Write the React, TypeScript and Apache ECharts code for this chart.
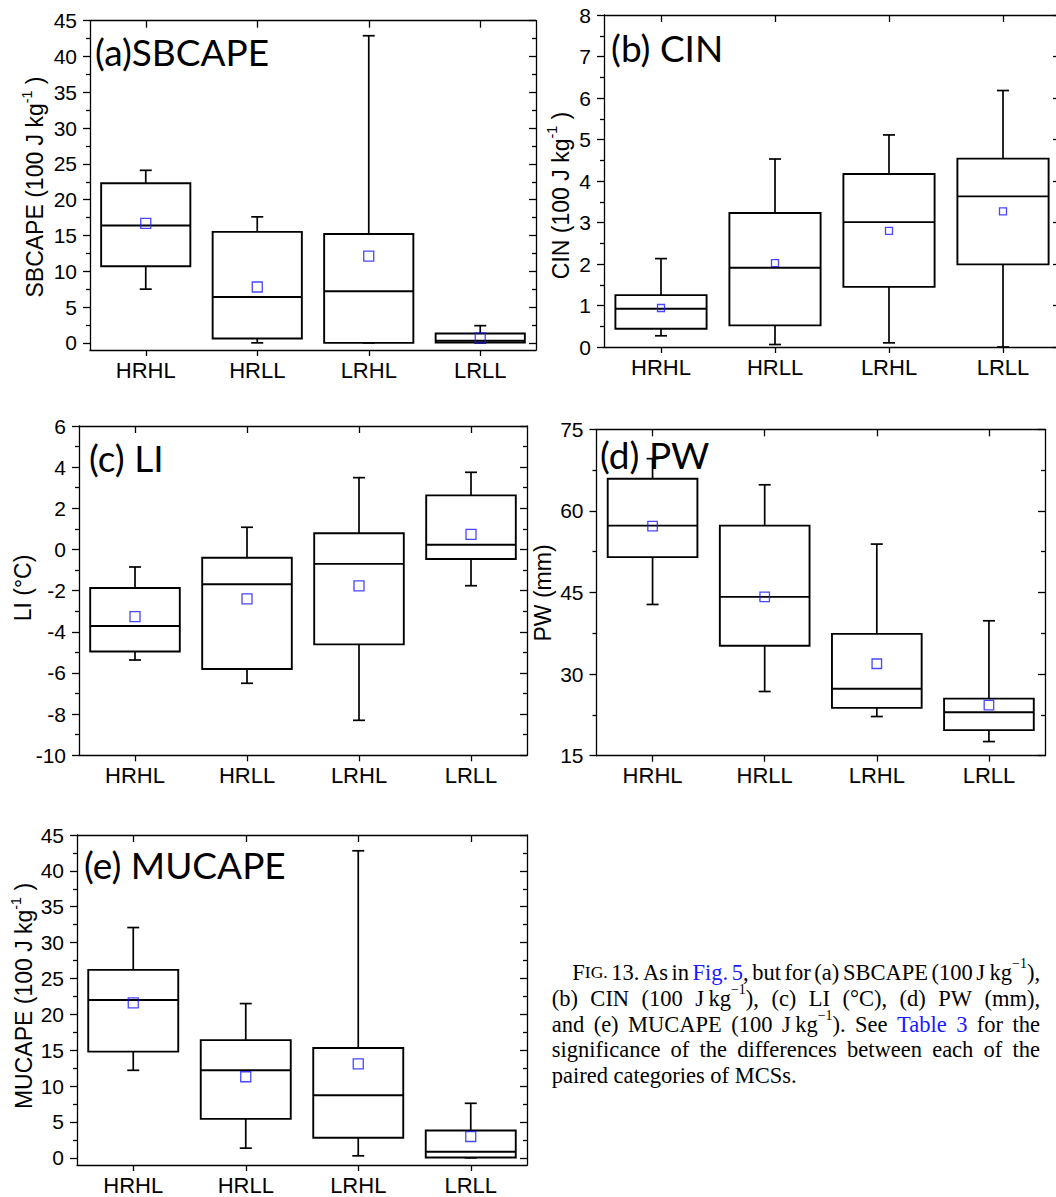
import React, { useEffect, useRef } from "react";
import * as echarts from "echarts";

// ---------------- DATA ----------------
const categories = ["HRHL", "HRLL", "LRHL", "LRLL"];

// each row: [lower whisker, Q1, median, Q3, upper whisker]
const sbcapeBox = [
  [7.5, 10.7, 16.4, 22.3, 24.1],
  [0, 0.6, 6.4, 15.5, 17.6],
  [0, 0, 7.2, 15.2, 42.9],
  [0, 0.05, 0.3, 1.3, 2.4],
];
const sbcapeMean = [16.7, 7.8, 12.1, 0.7];

const cinBox = [
  [0.27, 0.44, 0.92, 1.25, 2.13],
  [0.06, 0.52, 1.91, 3.23, 4.53],
  [0.1, 1.45, 3.01, 4.17, 5.11],
  [0, 1.99, 3.63, 4.54, 6.18],
];
const cinMean = [0.94, 2.02, 2.8, 3.27];

const liBox = [
  [-5.37, -4.96, -3.72, -1.87, -0.85],
  [-6.5, -5.81, -1.69, -0.4, 1.08],
  [-8.3, -4.61, -0.7, 0.79, 3.49],
  [-1.76, -0.46, 0.23, 2.63, 3.75],
];
const liMean = [-3.26, -2.4, -1.77, 0.73];

const pwBox = [
  [42.8, 51.5, 57.3, 65.9, 69.6],
  [26.8, 35.2, 44.2, 57.3, 64.8],
  [22.2, 23.8, 27.3, 37.4, 53.9],
  [17.6, 19.7, 23.0, 25.5, 39.8],
];
const pwMean = [57.2, 44.2, 31.9, 24.3];

const mucapeBox = [
  [12.2, 14.8, 22.0, 26.2, 32.1],
  [1.35, 5.43, 12.2, 16.4, 21.5],
  [0.28, 2.79, 8.73, 15.3, 42.8],
  [0, 0.05, 0.84, 3.8, 7.6],
];
const mucapeMean = [21.6, 11.3, 13.1, 2.97];

// axis ranges and tick values
const capeRange = [-1, 45];
const capeTicks = [0, 5, 10, 15, 20, 25, 30, 35, 40, 45];
const capeMinor = [2.5, 7.5, 12.5, 17.5, 22.5, 27.5, 32.5, 37.5, 42.5];
const cinRange = [0, 8];
const cinTicks = [0, 1, 2, 3, 4, 5, 6, 7, 8];
const cinMinor = [0.5, 1.5, 2.5, 3.5, 4.5, 5.5, 6.5, 7.5];
const liRange = [-10, 6];
const liTicks = [-10, -8, -6, -4, -2, 0, 2, 4, 6];
const liMinor = [-9, -7, -5, -3, -1, 1, 3, 5];
const pwRange = [15, 75];
const pwTicks = [15, 30, 45, 60, 75];
const pwMinor = [22.5, 37.5, 52.5, 67.5];

// texts (^..^ superscript, [..] link colour, ~..~ small caps)
const titles = ["(a)SBCAPE", "(b) CIN", "(c) LI", "(d) PW", "(e) MUCAPE"];
const axisNames = [
  "SBCAPE (100 J kg^-1^ )",
  "CIN (100 J kg^-1^ )",
  "LI (°C)",
  "PW (mm)",
  "MUCAPE (100 J kg^-1^ )",
];
const captionLines = [
  "F~IG.~ 13. As in [Fig.] [5], but for (a) SBCAPE (100 J\u2009kg^−1^),",
  "(b) CIN (100 J\u2009kg^−1^), (c) LI (°C), (d) PW (mm),",
  "and (e) MUCAPE (100 J\u2009kg^−1^). See [Table] [3] for the",
  "significance of the differences between each of the",
  "paired categories of MCSs.",
];

// ---------------- LAYOUT ----------------
const layouts = [
  { left: 90, top: 20.7, width: 446, height: 329.3, ms: 10, tx: 95, ty: 51, nx: 35.3, ny: 187 },
  { left: 604, top: 15, width: 456, height: 332, ms: 7, tx: 611, ty: 47.5, nx: 560.7, ny: 195.5 },
  { left: 79, top: 426, width: 448, height: 329.3, ms: 10, tx: 89, ty: 457, nx: 23.4, ny: 588 },
  { left: 596.5, top: 429.3, width: 448.5, height: 326.4, ms: 9.5, tx: 600, ty: 454.5, nx: 542.6, ny: 593 },
  { left: 77, top: 835, width: 450, height: 330, ms: 10, tx: 84, ty: 864, nx: 24.2, ny: 996 },
];

const BLUE = "#1a1aff";
const SANS = "Liberation Sans";
const SERIF = "Liberation Serif";
const TITLE_FONT = "Lato";
const NAME_FS = 23;

type Seg = { t: string; kind: "n" | "sup" | "sc" | "blue" };
function parseSegs(s: string): Seg[] {
  const out: Seg[] = [];
  const re = /\[([^\]]*)\]|\^([^^]*)\^|~([^~]*)~|([^\[\^~]+)/g;
  let m: RegExpExecArray | null;
  while ((m = re.exec(s))) {
    if (m[1] !== undefined) out.push({ t: m[1], kind: "blue" });
    else if (m[2] !== undefined) out.push({ t: m[2], kind: "sup" });
    else if (m[3] !== undefined) out.push({ t: m[3], kind: "sc" });
    else out.push({ t: m[4], kind: "n" });
  }
  return out;
}

function buildOption() {
  const ctx = document.createElement("canvas").getContext("2d")!;
  const measure = (t: string, fs: number, fam: string) => {
    ctx.font = `${fs}px "${fam}"`;
    return ctx.measureText(t).width;
  };
  const segSize = (k: string, fs: number) => (k === "sup" ? fs * 0.62 : k === "sc" ? fs * 0.78 : fs);
  const runWidth = (segs: Seg[], fs: number, fam: string) =>
    segs.reduce((w, s) => w + measure(s.t, segSize(s.kind, fs), fam), 0);
  const runElems = (segs: Seg[], fs: number, fam: string, x0: number, y: number) => {
    let x = x0;
    const els: any[] = [];
    for (const s of segs) {
      const f = segSize(s.kind, fs);
      const dy = s.kind === "sup" ? -fs * 0.36 : 0;
      els.push({
        type: "text",
        x,
        y: y + dy,
        silent: true,
        style: {
          text: s.t,
          fontSize: f,
          fontFamily: fam,
          fill: s.kind === "blue" ? BLUE : "#000",
          align: "left",
          verticalAlign: "middle",
          textAlign: "left",
          textVerticalAlign: "middle",
        },
      });
      x += measure(s.t, f, fam);
    }
    return els;
  };

  const panels = [
    { box: sbcapeBox, mean: sbcapeMean, range: capeRange, major: capeTicks, minor: capeMinor },
    { box: cinBox, mean: cinMean, range: cinRange, major: cinTicks, minor: cinMinor },
    { box: liBox, mean: liMean, range: liRange, major: liTicks, minor: liMinor },
    { box: pwBox, mean: pwMean, range: pwRange, major: pwTicks, minor: pwMinor },
    { box: mucapeBox, mean: mucapeMean, range: capeRange, major: capeTicks, minor: capeMinor },
  ];

  const black = { color: "#000", width: 1.3 };
  const grid: any[] = [];
  const xAxis: any[] = [];
  const yAxis: any[] = [];
  const series: any[] = [];
  const graphic: any[] = [];

  panels.forEach((p, i) => {
    const L = layouts[i];
    grid.push({ left: L.left, top: L.top, width: L.width, height: L.height, containLabel: false, outerBoundsMode: "none" });
    xAxis.push({
      gridIndex: i, type: "category", data: categories, position: "bottom", boundaryGap: true,
      axisLine: { show: true, onZero: false, lineStyle: black },
      axisTick: { show: true, alignWithLabel: true, inside: false, length: 6, lineStyle: black },
      axisLabel: { show: true, color: "#000", fontSize: 22, fontFamily: SANS, margin: 9 },
      splitLine: { show: false },
    });
    xAxis.push({
      gridIndex: i, type: "category", data: categories, position: "top", boundaryGap: true,
      axisLine: { show: true, onZero: false, lineStyle: black },
      axisTick: { show: true, alignWithLabel: true, inside: true, length: 7, lineStyle: black },
      axisLabel: { show: false },
      splitLine: { show: false },
    });
    const base = { gridIndex: i, type: "value", min: p.range[0], max: p.range[1], splitLine: { show: false } };
    yAxis.push({
      ...base, position: "left",
      axisLine: { show: true, onZero: false, lineStyle: black },
      axisTick: { show: true, inside: false, length: 7, lineStyle: black, customValues: p.major },
      axisLabel: { show: true, customValues: p.major, color: "#000", fontSize: 21, fontFamily: SANS, margin: 13 },
    });
    yAxis.push({
      ...base, position: "left",
      axisLine: { show: false, onZero: false },
      axisTick: { show: true, inside: false, length: 4, lineStyle: black, customValues: p.minor },
      axisLabel: { show: false },
    });
    yAxis.push({
      ...base, position: "right",
      axisLine: { show: true, onZero: false, lineStyle: black },
      axisTick: { show: true, inside: true, length: 7, lineStyle: black, customValues: p.major },
      axisLabel: { show: false },
    });
    yAxis.push({
      ...base, position: "right",
      axisLine: { show: false, onZero: false },
      axisTick: { show: true, inside: true, length: 4, lineStyle: black, customValues: p.minor },
      axisLabel: { show: false },
    });

    series.push({
      type: "custom",
      xAxisIndex: 2 * i,
      yAxisIndex: 4 * i,
      encode: { x: 0, y: [1, 2, 3, 4, 5] },
      data: p.box.map((b, j) => [j, ...b]),
      renderItem: (_params: any, api: any) => {
        const x = api.value(0);
        const y = (k: number) => api.coord([x, api.value(k)])[1];
        const cx = api.coord([x, api.value(1)])[0];
        const yLow = y(1), yQ1 = y(2), yMed = y(3), yQ3 = y(4), yHigh = y(5);
        const bw = api.size([1, 0])[0] * 0.8;
        const cap = 12;
        const wStyle = { stroke: "#000", lineWidth: 1.7, fill: "none" };
        const bStyle = { stroke: "#000", lineWidth: 1.9, fill: "none" };
        return {
          type: "group",
          children: [
            { type: "line", shape: { x1: cx, y1: yQ3, x2: cx, y2: yHigh }, style: wStyle },
            { type: "line", shape: { x1: cx - cap / 2, y1: yHigh, x2: cx + cap / 2, y2: yHigh }, style: wStyle },
            { type: "line", shape: { x1: cx, y1: yQ1, x2: cx, y2: yLow }, style: wStyle },
            { type: "line", shape: { x1: cx - cap / 2, y1: yLow, x2: cx + cap / 2, y2: yLow }, style: wStyle },
            { type: "rect", shape: { x: cx - bw / 2, y: yQ3, width: bw, height: yQ1 - yQ3 }, style: bStyle },
            { type: "line", shape: { x1: cx - bw / 2, y1: yMed, x2: cx + bw / 2, y2: yMed }, style: bStyle },
          ],
        };
      },
      z: 2,
    });
    series.push({
      type: "scatter",
      xAxisIndex: 2 * i,
      yAxisIndex: 4 * i,
      data: p.mean.map((m, j) => [j, m]),
      symbol: "rect",
      symbolSize: L.ms,
      itemStyle: { color: "rgba(0,0,0,0)", borderColor: BLUE, borderWidth: 1.3 },
      z: 3,
    });

    // panel title
    graphic.push({
      type: "text", x: L.tx, y: L.ty, silent: true, z: 10,
      style: {
        text: titles[i], fontSize: 37, fontFamily: TITLE_FONT, fill: "#000",
        align: "left", verticalAlign: "middle", textAlign: "left", textVerticalAlign: "middle",
      },
    });
    // axis name (rotated)
    const segs = parseSegs(axisNames[i]);
    const w = runWidth(segs, NAME_FS, SANS);
    graphic.push({
      type: "group", x: L.nx, y: L.ny, rotation: Math.PI / 2, silent: true,
      children: runElems(segs, NAME_FS, SANS, -w / 2, 0),
    });
  });

  // caption
  const CAP_FS = 22.5;
  const capLeft = 551.7, capRight = 1040, capIndent = 572.3;
  const capY = [972, 998, 1024, 1049.5, 1075.5];
  captionLines.forEach((line, li) => {
    const words = line.split(" ").map(parseSegs);
    const widths = words.map((ws) => runWidth(ws, CAP_FS, SERIF));
    const x0 = li === 0 ? capIndent : capLeft;
    const justify = li < captionLines.length - 1;
    const total = widths.reduce((a, b) => a + b, 0);
    const gap = justify ? (capRight - x0 - total) / (words.length - 1) : measure(" ", CAP_FS, SERIF);
    let x = x0;
    words.forEach((ws, k) => {
      graphic.push(...runElems(ws, CAP_FS, SERIF, x, capY[li]));
      x += widths[k] + gap;
    });
  });

  return {
    animation: false,
    backgroundColor: "#fff",
    grid,
    xAxis,
    yAxis,
    series,
    graphic: { elements: graphic },
  };
}

export default function App() {
  const ref = useRef<HTMLDivElement>(null);
  useEffect(() => {
    document.body.style.margin = "0";
    const chart = echarts.init(ref.current!, null, { renderer: "svg" });
    chart.setOption(buildOption() as any);
    return () => chart.dispose();
  }, []);
  return <div ref={ref} style={{ width: 1056, height: 1197, background: "#fff" }} />;
}
